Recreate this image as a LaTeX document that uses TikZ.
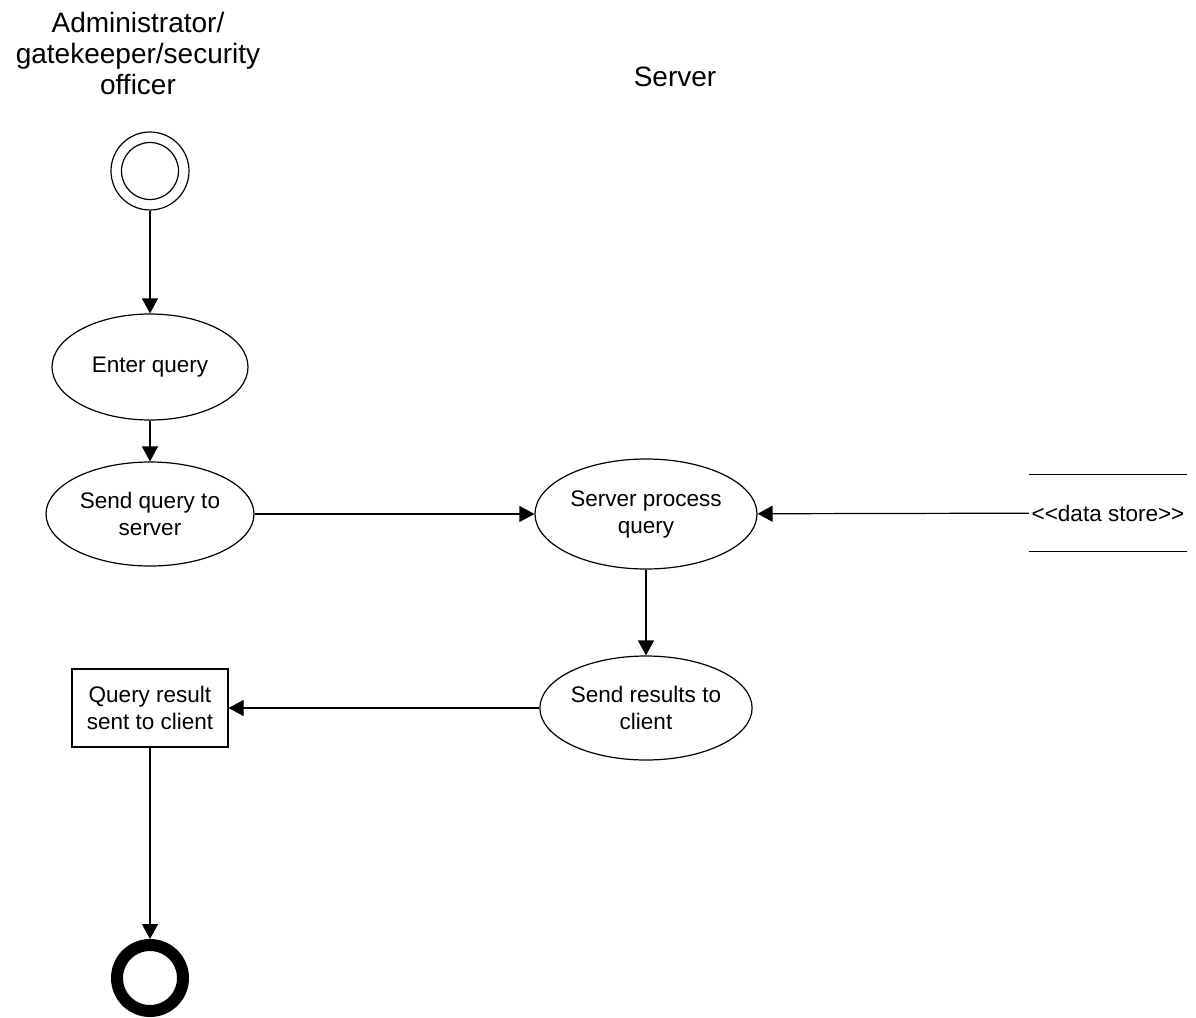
\documentclass[tikz,border=0pt]{standalone}
\usepackage{fontspec}
\setmainfont{Liberation Sans}
\usetikzlibrary{shapes.geometric,arrows.meta}
\begin{document}
\begin{tikzpicture}[x=1pt,y=-1pt,
  line width=1.2pt,
  every node/.style={font=\fontsize{22.5}{27}\selectfont, align=center, inner sep=0pt},
  activity/.style={draw, ellipse},
  flow/.style={-{Triangle[length=15pt,width=16pt]}},
  heading/.style={font=\fontsize{28}{31}\selectfont}
]
\useasboundingbox (0,0) rectangle (1196,1017);

% swimlane headings
\node[heading] (lane1) at (138,53) {Administrator/\\gatekeeper/security\\officer};
\node[heading] (lane2) at (675,77) {Server};

% initial and final states
\node[draw, circle, minimum size=78pt] (start) at (150,171) {};
\node[draw, circle, minimum size=57pt] (startin) at (150,171) {};
\node[draw, circle, minimum size=66pt, line width=12pt, outer sep=6pt] (final) at (150,978) {};

% activities
\node[activity, minimum width=196pt, minimum height=106pt] (enter) at (150,367) {Enter query};
\node[activity, minimum width=208pt, minimum height=104pt] (sendq) at (150,514) {Send query to\\server};
\node[activity, minimum width=222pt, minimum height=110pt] (proc) at (646,514) {Server process\\query};
\node[activity, minimum width=208pt, minimum height=104pt] (sendr) at (646,708) {Send results to\\client};
\node[draw, minimum width=156pt, minimum height=78pt] (result) at (150,708) {Query result\\sent to client};

% data store (kerns keep the guillemet ligatures from forming)
\node[minimum width=157pt, minimum height=76pt] (store) at (1108,513) {<\kern0pt<data store>\kern0pt>};
\draw (store.north west) -- (store.north east);
\draw (store.south west) -- (store.south east);

% control flow
\draw[flow] (start) -- (enter);
\draw[flow] (enter) -- (sendq);
\draw[flow] (sendq) -- (proc);
\draw[flow] (store) -- (proc);
\draw[flow] (proc) -- (sendr);
\draw[flow] (sendr) -- (result);
\draw[flow] (result) -- (final);
\end{tikzpicture}
\end{document}
